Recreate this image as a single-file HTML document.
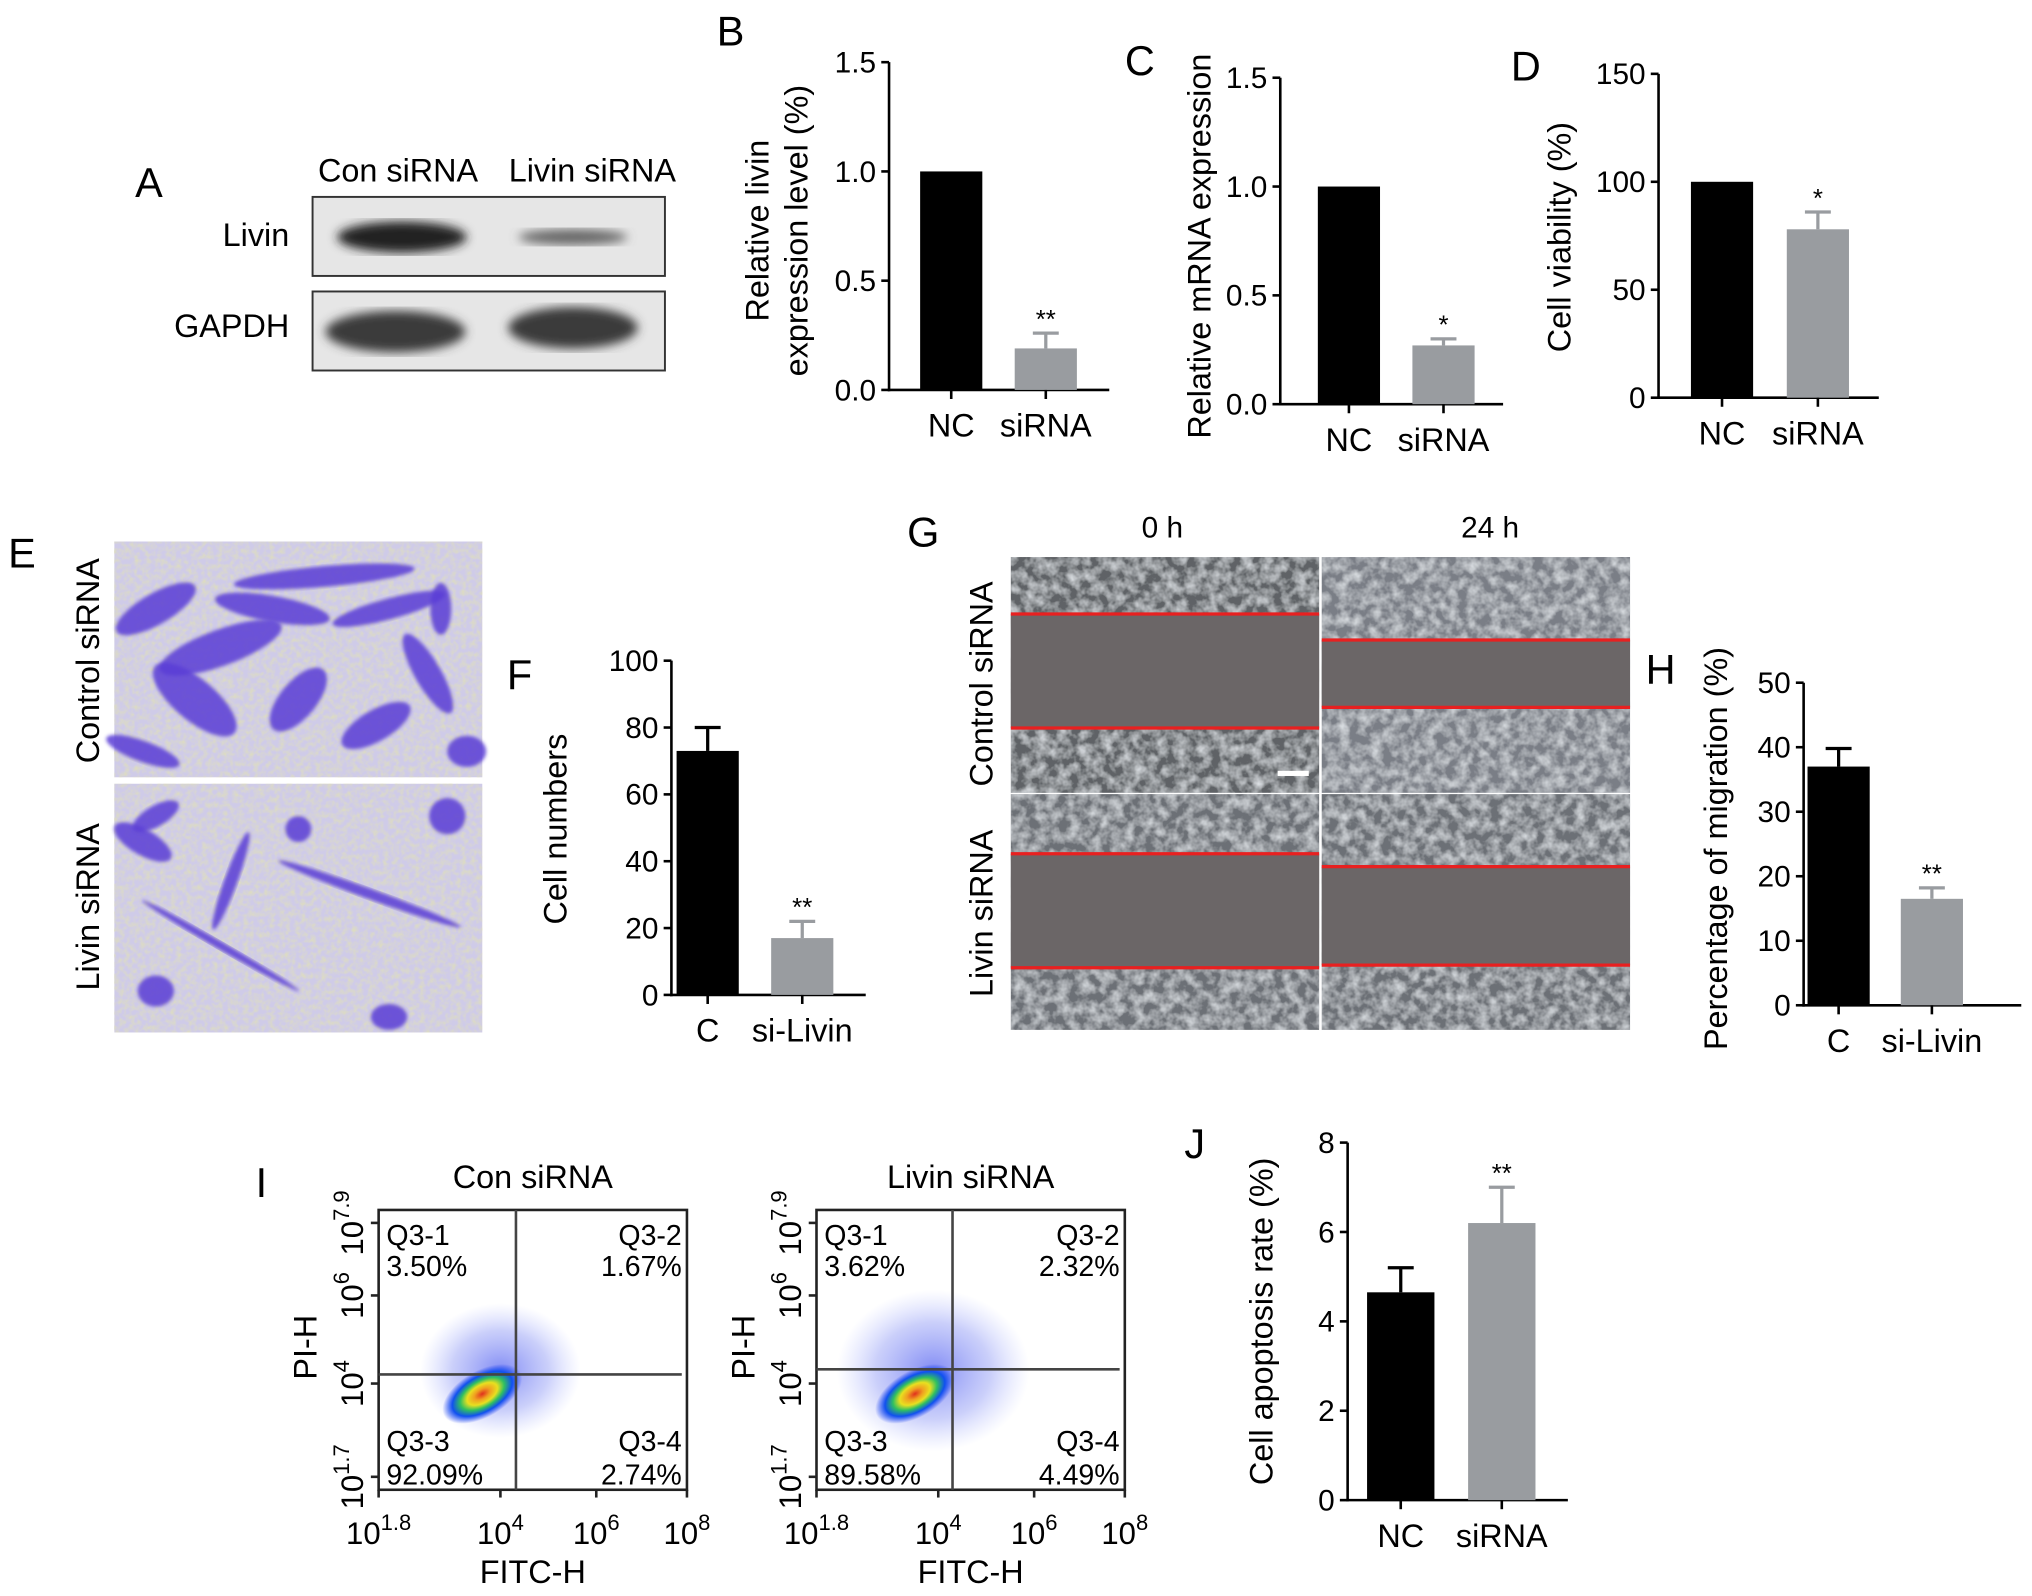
<!DOCTYPE html>
<html><head><meta charset="utf-8">
<style>
html,body{margin:0;padding:0;background:#fff;}
svg{display:block;font-family:"Liberation Sans",Arial,sans-serif;}
</style></head>
<body>
<svg id="fig" width="2032" height="1596" viewBox="0 0 1568 1232" xmlns="http://www.w3.org/2000/svg">
<defs>
<filter id="tex" x="0" y="0" width="100%" height="100%">
<feTurbulence type="fractalNoise" baseFrequency="0.12" numOctaves="3" seed="3" result="n"/>
<feColorMatrix in="n" type="matrix" values="0 0 0 0 0.72  0 0 0 0 0.75  0 0 0 0 0.78  0 0 0 1.6 -0.55" result="c"/>
<feComposite in="c" in2="SourceGraphic" operator="over"/>
</filter>
<filter id="texE" x="0" y="0" width="100%" height="100%">
<feTurbulence type="fractalNoise" baseFrequency="0.25" numOctaves="2" seed="7" result="n"/>
<feColorMatrix in="n" type="matrix" values="0 0 0 0 0.75  0 0 0 0 0.75  0 0 0 0 0.45  0 0 0 1.4 -0.5" result="c"/>
<feComposite in="c" in2="SourceGraphic" operator="over"/>
</filter>
<filter id="blur4"><feGaussianBlur stdDeviation="4"/></filter>
<filter id="blur2"><feGaussianBlur stdDeviation="1.5"/></filter>
<radialGradient id="facs" cx="50%" cy="50%" r="50%">
<stop offset="0" stop-color="#e0301e"/><stop offset="0.2" stop-color="#f0a020"/><stop offset="0.38" stop-color="#e8e020"/><stop offset="0.55" stop-color="#30c060"/><stop offset="0.75" stop-color="#1050f0"/><stop offset="1" stop-color="#2040f0" stop-opacity="0"/>
</radialGradient>
<radialGradient id="cloud" cx="50%" cy="50%" r="50%">
<stop offset="0" stop-color="#3040ee" stop-opacity="0.6"/><stop offset="0.6" stop-color="#5060f0" stop-opacity="0.3"/><stop offset="1" stop-color="#8090ff" stop-opacity="0"/>
</radialGradient>
</defs>
<g id="root"></g>
</svg>
<script>
// ---------- Data ----------
const catsB=["NC","siRNA"], valsB=[1.0,0.19], errB=[0,0.07], sigB=["","**"], ticksB=[0,0.5,1.0,1.5];
const catsC=["NC","siRNA"], valsC=[1.0,0.27], errC=[0,0.03], sigC=["","*"], ticksC=[0,0.5,1.0,1.5];
const catsD=["NC","siRNA"], valsD=[100,78], errD=[0,8], sigD=["","*"], ticksD=[0,50,100,150];
const catsF=["C","si-Livin"], valsF=[73,17], errF=[7,5], sigF=["","**"], ticksF=[0,20,40,60,80,100];
const catsH=["C","si-Livin"], valsH=[37,16.5], errH=[2.8,1.7], sigH=["","**"], ticksH=[0,10,20,30,40,50];
const catsJ=["NC","siRNA"], valsJ=[4.65,6.2], errJ=[0.55,0.8], sigJ=["","**"], ticksJ=[0,2,4,6,8];
const quadCon=["Q3-1","3.50%","Q3-2","1.67%","Q3-3","92.09%","Q3-4","2.74%"];
const quadLiv=["Q3-1","3.62%","Q3-2","2.32%","Q3-3","89.58%","Q3-4","4.49%"];

const NS="http://www.w3.org/2000/svg";
const root=document.getElementById('root');
function el(tag,attrs,parent,text){const e=document.createElementNS(NS,tag);for(const k in attrs)e.setAttribute(k,attrs[k]);if(text!==undefined)e.textContent=text;(parent||root).appendChild(e);return e;}
function label(t,x,y){const e=el('text',{x:x,y:y,'font-size':32},root,t);

}

// ---------- Bar chart ----------
function bar(o){
  const g=el('g',{});
  
  
  const max=o.ticks[o.ticks.length-1];
  const y=v=>o.y0-(v/max)*(o.y0-o.y1);
  el('line',{x1:o.ax,y1:o.y1,x2:o.ax,y2:o.y0+1,stroke:'#000','stroke-width':2},g);
  el('line',{x1:o.ax-1,y1:o.y0,x2:o.ax+o.w,y2:o.y0,stroke:'#000','stroke-width':2},g);
  o.ticks.forEach(t=>{el('line',{x1:o.ax-6,y1:y(t),x2:o.ax,y2:y(t),stroke:'#000','stroke-width':2},g);
    const tl=el('text',{x:o.ax-10,y:y(t)+8,'font-size':23,'text-anchor':'end'},g,o.fmt?o.fmt(t):t);
    
    });
  o.cats.forEach((c,i)=>{
    const x=o.bx[i];const top=y(o.vals[i]);
    const r=el('rect',{x:x,y:top,width:o.bw,height:o.y0-top,fill:i==0?'#000':'#999ca0'},g);
    
    
    const cx=x+o.bw/2;
    if(o.errs[i]>0){const ye=y(o.vals[i]+o.errs[i]);
      el('line',{x1:cx,y1:top,x2:cx,y2:ye,stroke:i==0?'#000':'#999ca0','stroke-width':2.5},g);
      el('line',{x1:cx-10,y1:ye,x2:cx+10,y2:ye,stroke:i==0?'#000':'#999ca0','stroke-width':2.5},g);}
    if(o.sig[i]){const st=el('text',{x:cx,y:y(o.vals[i]+o.errs[i])-4,'font-size':20,'text-anchor':'middle'},g,o.sig[i]);
      
      }
    el('line',{x1:cx,y1:o.y0,x2:cx,y2:o.y0+7,stroke:'#000','stroke-width':2},g);
    const xl=el('text',{x:cx,y:o.y0+36,'font-size':25,'text-anchor':'middle'},g,c);
    
    
  });
  o.title.forEach((t,k)=>{const tx=o.tx+k*30;
    const tt=el('text',{x:0,y:0,'font-size':25,'text-anchor':'middle',transform:`translate(${tx},${o.ty}) rotate(-90)`},g,t);
    
    });
}
const f1=t=>t.toFixed(1);

// ---------- Panel A ----------
label('A',104,152);
(function(){
const g=el('g',{});


el('text',{x:307,y:140,'font-size':25,'text-anchor':'middle'},g,'Con siRNA');
el('text',{x:457,y:140,'font-size':25,'text-anchor':'middle'},g,'Livin siRNA');
el('text',{x:223,y:190,'font-size':25,'text-anchor':'end'},g,'Livin');
el('text',{x:223,y:260,'font-size':25,'text-anchor':'end'},g,'GAPDH');
el('rect',{x:241,y:152,width:272,height:61,fill:'#e6e6e6',stroke:'#333','stroke-width':1.5},g);
el('rect',{x:241,y:225,width:272,height:61,fill:'#e6e6e6',stroke:'#333','stroke-width':1.5},g);
el('ellipse',{cx:310,cy:183,rx:50,ry:12,fill:'#222',filter:'url(#blur4)'},g);
el('ellipse',{cx:442,cy:183,rx:42,ry:6,fill:'#666',filter:'url(#blur4)'},g);
el('ellipse',{cx:305,cy:256,rx:54,ry:16,fill:'#3a3a3a',filter:'url(#blur4)'},g);
el('ellipse',{cx:442,cy:253,rx:50,ry:16,fill:'#3a3a3a',filter:'url(#blur4)'},g);
})();

label('B',553,35);
bar({name:'chart-b',cats:catsB,vals:valsB,errs:errB,sig:sigB,ticks:ticksB,fmt:f1,ax:686,y0:301,y1:48,w:170,bx:[710,783],bw:48,title:['Relative livin','expression level (%)'],tx:593,ty:178});
label('C',868,58);
bar({name:'chart-c',cats:catsC,vals:valsC,errs:errC,sig:sigC,ticks:ticksC,fmt:f1,ax:988,y0:312,y1:60,w:172,bx:[1017,1090],bw:48,title:['Relative mRNA expression'],tx:934,ty:190});
label('D',1166,62);
bar({name:'chart-d',cats:catsD,vals:valsD,errs:errD,sig:sigD,ticks:ticksD,ax:1280,y0:307,y1:57,w:170,bx:[1305,1379],bw:48,title:['Cell viability (%)'],tx:1212,ty:183});

// ---------- Panel E ----------
label('E',6,438);
(function(){
const g=el('g',{});


[[418,182],[605,192]].forEach(([y,h],i)=>{
 el('rect',{x:88,y:y,width:284,height:h,fill:'#cfcbe8',filter:'url(#texE)'},g);
});
const blobs=[[120,470,35,12,-30],[170,500,50,14,-20],[210,470,45,10,10],[150,540,40,16,40],[230,540,30,14,-50],[300,470,45,8,-15],[330,520,35,10,60],[290,560,30,12,-30],[340,470,20,8,90],[250,445,70,8,-5],[110,580,30,8,20],[360,580,15,12,0],[110,650,25,10,30],[178,680,40,5,-70],[230,640,10,10,0],[285,690,75,4,20],[170,730,70,3,30],[120,765,14,12,0],[300,785,14,10,0],[345,630,14,14,0],[120,630,20,8,-30]];
blobs.forEach(b=>el('ellipse',{cx:b[0],cy:b[1],rx:b[2],ry:b[3],fill:'#5a3ed6',opacity:0.85,transform:`rotate(${b[4]} ${b[0]} ${b[1]})`,filter:'url(#blur2)'},g));
el('text',{x:0,y:0,'font-size':25,'text-anchor':'middle',transform:'translate(76,510) rotate(-90)'},g,'Control siRNA');
el('text',{x:0,y:0,'font-size':25,'text-anchor':'middle',transform:'translate(76,700) rotate(-90)'},g,'Livin siRNA');
})();

label('F',391,532);
bar({name:'chart-f',cats:catsF,vals:valsF,errs:errF,sig:sigF,ticks:ticksF,ax:518,y0:768,y1:510,w:150,bx:[522,595],bw:48,title:['Cell numbers'],tx:437,ty:640});

// ---------- Panel G ----------
label('G',700,422);
(function(){
const g=el('g',{});


el('text',{x:897,y:415,'font-size':23,'text-anchor':'middle'},g,'0 h');
el('text',{x:1150,y:415,'font-size':23,'text-anchor':'middle'},g,'24 h');
const cells=[[780,430,474,562,'#5f6266'],[1020,430,494,546,'#7a7e86'],[780,613,659,747,'#6c7076'],[1020,613,669,745,'#6c7076']];
cells.forEach(([x,y,r1,r2,bg])=>{
 el('rect',{x:x,y:y,width:238,height:182,fill:bg,filter:'url(#tex)'},g);
 el('rect',{x:x,y:r1,width:238,height:r2-r1,fill:'#6b6667'},g);
 el('line',{x1:x,y1:r1,x2:x+238,y2:r1,stroke:'#e82020','stroke-width':2.5},g);
 el('line',{x1:x,y1:r2,x2:x+238,y2:r2,stroke:'#e82020','stroke-width':2.5},g);
});
el('rect',{x:986,y:595,width:24,height:4,fill:'#fff'},g);
el('text',{x:0,y:0,'font-size':25,'text-anchor':'middle',transform:'translate(766,528) rotate(-90)'},g,'Control siRNA');
el('text',{x:0,y:0,'font-size':25,'text-anchor':'middle',transform:'translate(766,705) rotate(-90)'},g,'Livin siRNA');
})();

label('H',1270,528);
bar({name:'chart-h',cats:catsH,vals:valsH,errs:errH,sig:sigH,ticks:ticksH,ax:1392,y0:776,y1:527,w:168,bx:[1395,1467],bw:48,title:['Percentage of migration (%)'],tx:1333,ty:655});

// ---------- Panel I ----------
label('I',197,924);
function facs(x0,title,q,gx,gy,cx,cy,spread){
 const g=el('g',{});
 
 
 const x1=x0+238,y0=934,y1=1150;
 el('text',{x:(x0+x1)/2,y:917,'font-size':25,'text-anchor':'middle'},g,title);
 el('ellipse',{cx:cx+14,cy:cy-18,rx:62*spread,ry:52*spread,fill:'url(#cloud)'},g);
 el('ellipse',{cx:cx,cy:cy,rx:34,ry:18,fill:'url(#facs)',transform:`rotate(-30 ${cx} ${cy})`},g);
 el('rect',{x:x0,y:y0,width:238,height:216,fill:'none',stroke:'#222','stroke-width':2},g);
 el('line',{x1:gx,y1:y0,x2:gx,y2:y1,stroke:'#444','stroke-width':2},g);
 el('line',{x1:x0,y1:gy,x2:x1-4,y2:gy,stroke:'#444','stroke-width':2},g);
 const fs=22;
 el('text',{x:x0+6,y:961,'font-size':fs},g,q[0]);el('text',{x:x0+6,y:985,'font-size':fs},g,q[1]);
 el('text',{x:x1-4,y:961,'font-size':fs,'text-anchor':'end'},g,q[2]);el('text',{x:x1-4,y:985,'font-size':fs,'text-anchor':'end'},g,q[3]);
 el('text',{x:x0+6,y:1120,'font-size':fs},g,q[4]);el('text',{x:x0+6,y:1146,'font-size':fs},g,q[5]);
 el('text',{x:x1-4,y:1120,'font-size':fs,'text-anchor':'end'},g,q[6]);el('text',{x:x1-4,y:1146,'font-size':fs,'text-anchor':'end'},g,q[7]);
 const xt=[['10','1.8',x0],['10','4',x0+94],['10','6',x0+168],['10','8',x1]];
 xt.forEach(([b,e,x])=>{const t=el('text',{x:x,y:1192,'font-size':24,'text-anchor':'middle'},g);
  el('tspan',{},t,b);el('tspan',{'font-size':17,dy:-11},t,e);
  el('line',{x1:x,y1:y1,x2:x,y2:y1+6,stroke:'#222','stroke-width':2},g);});
 const yt=[['10','1.7',1140],['10','4',1068],['10','6',1000],['10','7.9',944]];
 yt.forEach(([b,e,y])=>{const t=el('text',{x:0,y:0,'font-size':24,'text-anchor':'middle',transform:`translate(${x0-12},${y}) rotate(-90)`},g);
  el('tspan',{},t,b);el('tspan',{'font-size':17,dy:-11},t,e);
  el('line',{x1:x0-6,y1:y,x2:x0,y2:y,stroke:'#222','stroke-width':2},g);});
 el('text',{x:(x0+x1)/2,y:1222,'font-size':25,'text-anchor':'middle'},g,'FITC-H');
 el('text',{x:0,y:0,'font-size':25,'text-anchor':'middle',transform:`translate(${x0-48},1040) rotate(-90)`},g,'PI-H');
}
facs(292,'Con siRNA',quadCon,398,1061,372,1076,1);
facs(630,'Livin siRNA',quadLiv,735,1057,706,1076,1.2);

label('J',914,894);
bar({name:'chart-j',cats:catsJ,vals:valsJ,errs:errJ,sig:sigJ,ticks:ticksJ,ax:1040,y0:1158,y1:882,w:170,bx:[1055,1133],bw:52,title:['Cell apoptosis rate (%)'],tx:982,ty:1020});
</script>
</body></html>
